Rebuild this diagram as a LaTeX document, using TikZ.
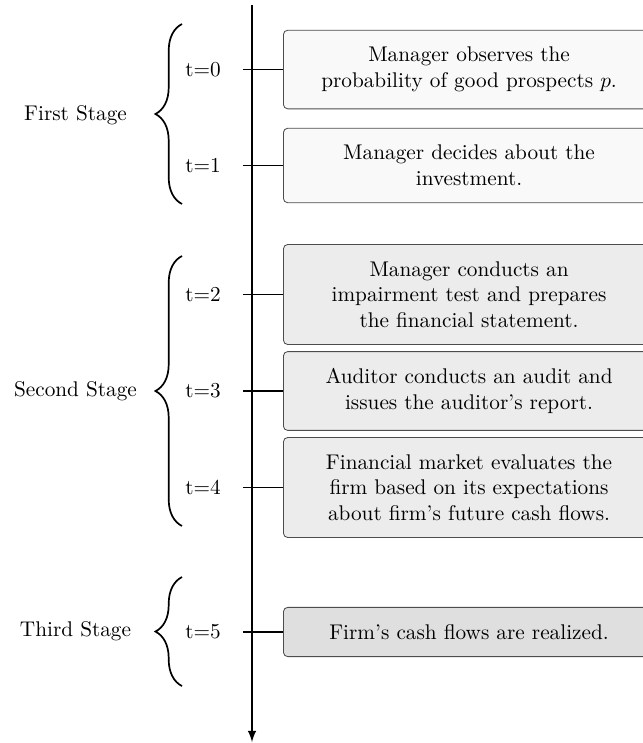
\documentclass[tikz,border=0pt]{standalone}
\usepackage{amsmath}
\usepackage{tikz}
\usetikzlibrary{shapes,arrows,positioning,decorations.pathreplacing}

\begin{document}
\begin{tikzpicture}[
	event/.style={draw=black!70,rounded corners=2pt,align=center,minimum width=6.14cm,inner ysep=8pt,anchor=west},
	stagebrace/.style={decorate,decoration={brace,amplitude=12.5pt},thick}]
	\useasboundingbox (0,0) rectangle (10.635,-12.289);
	\clip (0,0) rectangle (10.635,-12.289);
	% the time line
	\coordinate (top) at (4.168,-0.083);
	\coordinate (bottom) at (4.168,-12.273);
	\draw[thick,-latex] (top) -- (bottom);
	%% the events
	\node[event,fill=gray!5] (e0) at (4.681,-1.150) {Manager observes the\\probability of good prospects $p$.};
	\node[event,fill=gray!5] (e1) at (4.681,-2.737) {Manager decides about the\\investment.};
	\node[event,fill=gray!15] (e2) at (4.681,-4.871) {Manager conducts an\\impairment test and prepares\\the financial statement.};
	\node[event,fill=gray!15] (e3) at (4.681,-6.467) {Auditor conducts an audit and\\issues the auditor's report.};
	\node[event,fill=gray!15] (e4) at (4.681,-8.063) {Financial market evaluates the\\firm based on its expectations\\about firm's future cash flows.};
	\node[event,fill=gray!25] (e5) at (4.681,-10.453) {Firm's cash flows are realized.};
	%% the ticks
	\coordinate (k0) at (4.019,-1.150);
	\coordinate (k1) at (4.019,-2.737);
	\coordinate (k2) at (4.019,-4.871);
	\coordinate (k3) at (4.019,-6.467);
	\coordinate (k4) at (4.019,-8.063);
	\coordinate (k5) at (4.019,-10.453);
	\draw[thick] (k0) -- (e0);
	\draw[thick] (k1) -- (e1);
	\draw[thick] (k2) -- (e2);
	\draw[thick] (k3) -- (e3);
	\draw[thick] (k4) -- (e4);
	\draw[thick] (k5) -- (e5);
	\node (t0) at (3.358,-1.150) {t=0};
	\node (t1) at (3.358,-2.737) {t=1};
	\node (t2) at (3.358,-4.871) {t=2};
	\node (t3) at (3.358,-6.467) {t=3};
	\node (t4) at (3.358,-8.063) {t=4};
	\node (t5) at (3.358,-10.453) {t=5};
	%% the stages
	\coordinate (s1top) at (3.010,-0.397);
	\coordinate (s1bot) at (3.010,-3.374);
	\coordinate (s2top) at (3.010,-4.234);
	\coordinate (s2bot) at (3.010,-8.700);
	\coordinate (s3top) at (3.010,-9.544);
	\coordinate (s3bot) at (3.010,-11.347);
	\draw[stagebrace] (s1bot) -- (s1top);
	\draw[stagebrace] (s2bot) -- (s2top);
	\draw[stagebrace] (s3bot) -- (s3top);
	\node (first) at (1.249,-1.902) {First Stage};
	\node (second) at (1.249,-6.462) {Second Stage};
	\node (third) at (1.249,-10.445) {Third Stage};
\end{tikzpicture}
\end{document}
